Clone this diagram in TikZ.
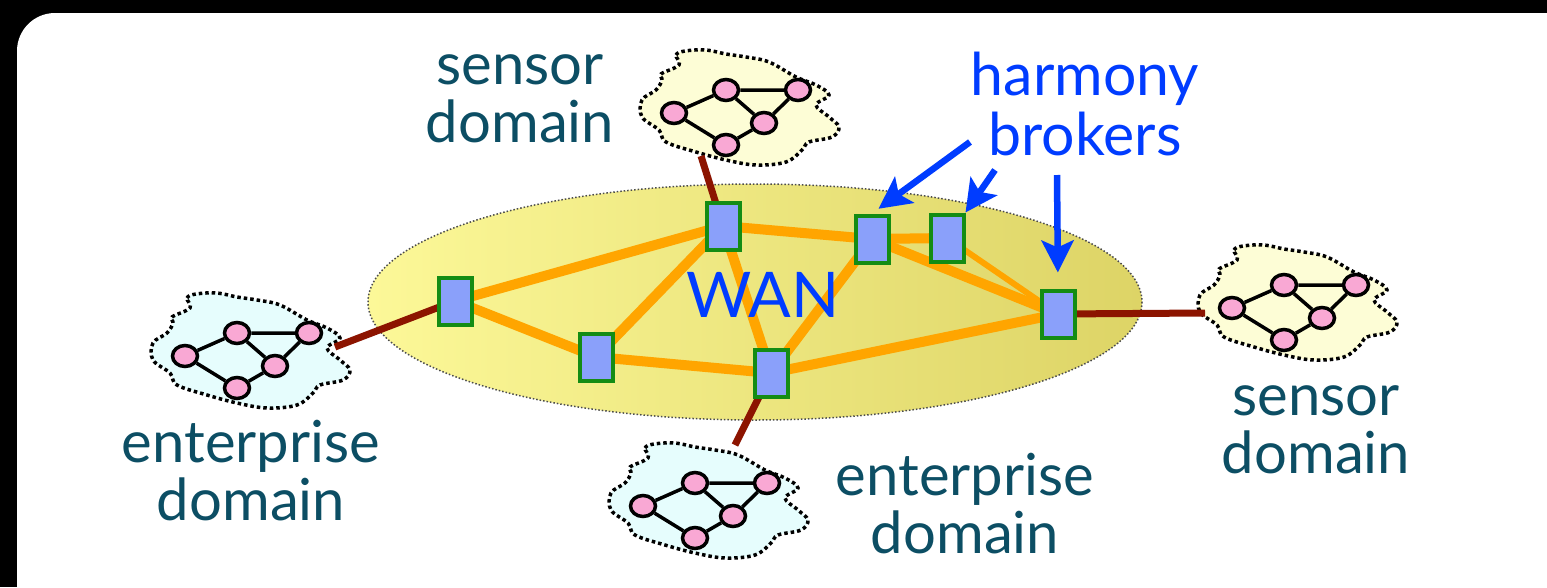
\documentclass[tikz,border=0pt]{standalone}
\usepackage{fontspec}
\setmainfont{Lato}
\usetikzlibrary{arrows.meta,shapes.geometric}

\definecolor{domtext}{HTML}{0C4E64}
\definecolor{harmblue}{HTML}{003CFF}
\definecolor{wanleft}{HTML}{FCF898}
\definecolor{wanright}{HTML}{DDD466}
\definecolor{wanlinkcol}{HTML}{FFA500}
\definecolor{uplinkcol}{HTML}{8C1400}
\definecolor{brokerfill}{HTML}{8AA0FA}
\definecolor{brokeredge}{HTML}{148C14}
\definecolor{entfill}{HTML}{E6FDFD}
\definecolor{sensfill}{HTML}{FDFDD6}
\definecolor{hostfill}{HTML}{F9A8D4}

% outline of one domain cloud, relative to its left host
\newcommand{\cloudpath}{(5,-48) (2,-58) (11,-62) (32,-63) (52,-59) (72,-56)
  (95,-51) (122,-36) (142,-28) (155,-18) (142,-8) (155,4) (165,14) (158,24)
  (135,29) (128,37) (112,49) (82,52) (52,47) (22,39) (-8,29) (-15,17)
  (-32,4) (-32,-13) (-18,-23) (-12,-33) (-13,-39)}

\begin{document}
\begin{tikzpicture}[x=1pt,y=-1pt,
  broker/.style={draw=brokeredge,fill=brokerfill,line width=4pt,
    minimum width=33pt,minimum height=47pt,inner sep=0pt},
  wanlink/.style={line width=10pt,wanlinkcol},
  uplink/.style={line width=7pt,uplinkcol},
  host/.style={ellipse,draw,fill=hostfill,line width=3.5pt,
    minimum width=25pt,minimum height=21pt,inner sep=0pt},
  hostlink/.style={line width=3.5pt},
  domlabel/.style={domtext,align=center,anchor=base,
    font=\fontsize{58}{58}\selectfont},
  harmony/.style={harmblue,align=center,anchor=base,
    font=\fontsize{59}{60}\selectfont},
  pointer/.style={harmblue,line width=6.5pt,
    -{Stealth[length=32pt,width=32pt,inset=7pt]}}]
\useasboundingbox (0,0) rectangle (1547,587);
\fill[black] (0,0) rectangle (1547,587);
\fill[white,rounded corners=38pt] (17,13) rectangle (1600,640);

% the WAN
\shade[left color=wanleft,right color=wanright,draw=black!70,
  line width=1.5pt,dotted] (755,302) ellipse [x radius=387,y radius=118];

% domain clouds
\foreach \cx/\cy/\cf/\cn in {185/356/entfill/entw,674/113/sensfill/sensn,
  643/506/entfill/ents,1232/308/sensfill/sense}
{
  \begin{scope}[shift={(\cx,\cy)}]
    \draw[fill=\cf,line width=3.5pt,dash pattern=on 3.5pt off 3pt]
      plot[smooth cycle,tension=0.6] coordinates {\cloudpath};
    \node[host] (\cn-a) at (0,0) {};
    \node[host] (\cn-b) at (52,-23) {};
    \node[host] (\cn-c) at (124,-23) {};
    \node[host] (\cn-d) at (90,10) {};
    \node[host] (\cn-e) at (52,32) {};
    \draw[hostlink] (\cn-a) -- (\cn-b) -- (\cn-c) -- (\cn-d) -- (\cn-e) -- (\cn-a);
    \draw[hostlink] (\cn-b) -- (\cn-d);
  \end{scope}
}

% broker positions
\coordinate (bw) at (455,301);
\coordinate (bsw) at (596,357);
\coordinate (bn) at (723,226);
\coordinate (bs) at (771,373);
\coordinate (bh1) at (872,239);
\coordinate (bh2) at (947,238);
\coordinate (be) at (1058,314);

% where each domain meets the WAN
\coordinate (entw-port) at (335,347);
\coordinate (sensn-port) at (701,156);
\coordinate (ents-port) at (735,445);
\coordinate (sense-port) at (1205,313);

\draw[uplink] (entw-port) -- (bw);
\draw[uplink] (sensn-port) -- (bn);
\draw[uplink] (ents-port) -- (bs);
\draw[uplink] (sense-port) -- (be);

\draw[wanlink] (bw) -- (bn);
\draw[wanlink] (bw) -- (bsw);
\draw[wanlink] (bsw) -- (bn);
\draw[wanlink] (bsw) -- (bs);
\draw[wanlink] (bn) -- (bs);
\draw[wanlink] (bn) -- (bh1);
\draw[wanlink] (bh1) -- (bh2);
\draw[wanlink] (bs) -- (bh1);
\draw[wanlink] (bs) -- (be);
\draw[wanlink] (bh1) -- (be);
\draw[wanlink,line width=6pt] (bh2) -- (be);

\foreach \b in {bw,bsw,bn,bs,bh1,bh2,be}
  \node[broker] (\b-box) at (\b) {};

\node[harmblue,anchor=base,font=\fontsize{63}{63}\selectfont] (wan) at (763,317) {WAN};

% labels
\node[domlabel] (lbl-sensn) at (520,142) {sensor\\domain};
\node[domlabel] (lbl-entw) at (251,520) {enterprise\\domain};
\node[domlabel] (lbl-ents) at (965,553) {enterprise\\domain};
\node[domlabel] (lbl-sense) at (1316,473) {sensor\\domain};
\node[harmony] (lbl-harm) at (1085,155) {harmony\\brokers};

% pointers to the harmony brokers
\coordinate (p1) at (970,142);
\coordinate (p2) at (995,170);
\coordinate (p3) at (1057,175);
\draw[pointer,shorten >=8pt] (p1) -- (bh1-box.north);
\draw[pointer] (p2) -- (bh2-box.north east);
\draw[pointer,shorten >=16pt] (p3) -- (be-box.north);
\end{tikzpicture}
\end{document}
